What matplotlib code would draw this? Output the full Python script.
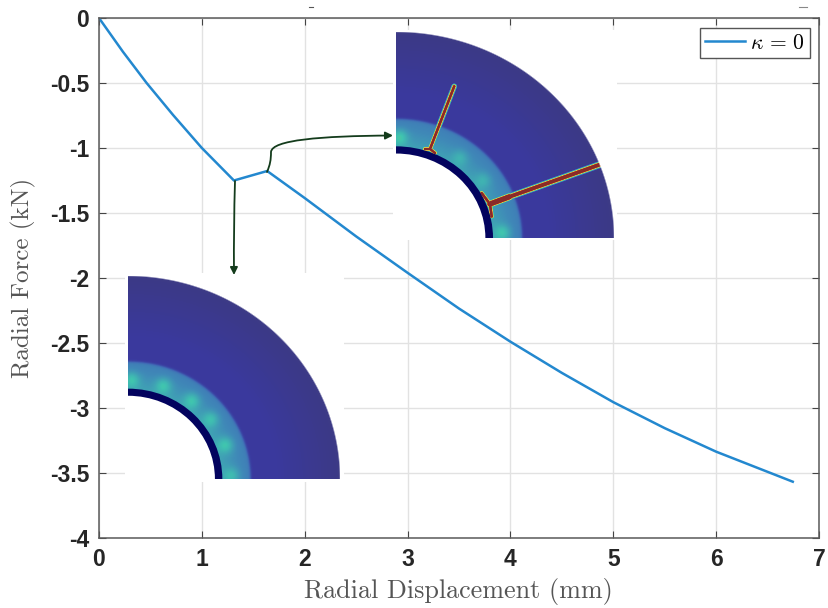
import numpy as np
import matplotlib
matplotlib.use('Agg')
import matplotlib.pyplot as plt
from matplotlib.colors import LinearSegmentedColormap
from matplotlib.patches import Wedge, FancyArrowPatch
from matplotlib.path import Path

plt.rcParams['mathtext.fontset'] = 'cm'

# curve
disp = [0, 0.233, 0.463, 0.72, 1.0, 1.312, 1.635, 2.0, 2.5, 3.0, 3.5, 4.0, 4.5, 5.0, 5.5, 6.0, 6.4, 6.745]
force = [0, -0.26, -0.50, -0.746, -1.0, -1.25, -1.177, -1.385, -1.68, -1.96, -2.235, -2.49, -2.73, -2.955, -3.155, -3.336, -3.46, -3.567]

xticks = [0, 1, 2, 3, 4, 5, 6, 7]
yticks = [0, -0.5, -1, -1.5, -2, -2.5, -3, -3.5, -4]
ylabels = ['0', '-0.5', '-1', '-1.5', '-2', '-2.5', '-3', '-3.5', '-4']

# inset pictures, px boxes: left, right, bottom, top of the wedge and of the white patch
top_inset = dict(wedge=(396, 614, 238, 32), box=(393, 617, 240, 30),
                 spots=[88, 53, 35, 3], strength=[0.11, 0.06, 0.06, 0.10])
low_inset = dict(wedge=(128, 340, 479, 276), box=(125, 344, 482, 273),
                 spots=[88, 70, 52, 37, 20, 2], strength=[0.10, 0.10, 0.10, 0.09, 0.10, 0.08])

# cracks in the top inset (start, end, half width px), fractions of wedge radius
cracks = [((0.156, 0.432), (0.267, 0.736), 0.5),
          ((0.156, 0.432), (0.133, 0.432), 0.4),
          ((0.156, 0.432), (0.179, 0.413), 0.4),
          ((0.431, 0.165), (0.52, 0.20), 1.8),
          ((0.52, 0.20), (1.0, 0.381), 1.1),
          ((0.431, 0.165), (0.393, 0.218), 0.5),
          ((0.431, 0.165), (0.439, 0.105), 0.5)]

W, H = 829, 608
cmap = LinearSegmentedColormap.from_list('damage', [
    (0.0, '#3c3a86'), (0.08, '#3a399e'), (0.2, '#3f66b4'), (0.3, '#4088b8'),
    (0.42, '#3fc4b0'), (0.52, '#7fd070'), (0.62, '#dfcc48'), (0.74, '#c8502c'), (0.88, '#8a2a28'), (1.0, '#8a2a28')])


def px_rect(l, r, b, t):
    return [l / W, 1 - b / H, (r - l) / W, (b - t) / H]


def seg_dist(x, y, p, q):
    p, q = np.array(p), np.array(q)
    d = q - p
    t = np.clip(((x - p[0]) * d[0] + (y - p[1]) * d[1]) / (d @ d), 0, 1)
    return np.hypot(x - p[0] - t * d[0], y - p[1] - t * d[1])


def draw_inset(fig, spec, crack_list):
    l, r, b, t = spec['wedge']
    bl, br, bb, bt = spec['box']
    sx, sy = r - l, b - t
    ax = fig.add_axes(px_rect(bl, br, bb, bt), zorder=3)
    ax.axis('off')
    ax.add_patch(plt.Rectangle((-1, -1), 3, 3, fc='white', ec='none', zorder=-1))

    x, y = np.meshgrid((np.arange(sx) + 0.5) / sx, (np.arange(sy) + 0.5) / sy)
    rr = np.hypot(x, y)
    # field: band round the hole, weak falloff outside
    step = 0.5 + 0.5 * np.tanh((0.578 - rr) * sx / 1.5)
    band = 0.35 - 0.08 * np.clip((rr - 0.445) / 0.135, 0, 1)
    out = 0.08 * np.clip((1 - rr) / 0.3, 0, 1)
    val = step * band + (1 - step) * out
    for ang, s in zip(spec['spots'], spec['strength']):
        a = np.radians(ang)
        d = np.hypot((x - 0.49 * np.cos(a)) * sx, (y - 0.49 * np.sin(a)) * sy)
        val = val + step * s * np.exp(-(d / 8.0) ** 2)
    for p, q, hw in crack_list:
        d = seg_dist(x * sx, y * sy, (p[0] * sx, p[1] * sy), (q[0] * sx, q[1] * sy))
        val = np.maximum(val, np.clip(1 - (d - hw) / 3.0, 0, 1))
    img = cmap(np.clip(val, 0, 1))
    img[..., 3] = np.clip((1 - rr) * sx / 1.5 + 0.5, 0, 1) * np.clip((rr - 0.42) * sx, 0, 1)
    ax.imshow(img, origin='lower', extent=(0, 1, 0, 1), aspect='auto', interpolation='bilinear')
    ax.add_patch(Wedge((0, 0), 0.445, 0, 90, width=0.445 - 0.41, fc='#03035e', ec='none'))
    ax.set_xlim((bl - l) / sx, (br - l) / sx)
    ax.set_ylim((b - bb) / sy, (b - bt) / sy)
    return ax


fig = plt.figure(figsize=(W / 100, H / 100), dpi=100)
ax = fig.add_axes(px_rect(99, 819, 538, 18))
ax.plot(disp, force, color='#2388cf', lw=1.8, label=r'$\kappa\,=\,0$', zorder=2)
ax.set_xlim(0, 7)
ax.set_ylim(-4, 0)
ax.set_xticks(xticks)
ax.set_yticks(yticks)
ax.set_yticklabels(ylabels)
ax.grid(True, color='#e2e2e2', lw=1)
ax.set_axisbelow(True)
ax.tick_params(direction='in', top=True, right=True, length=5, width=0.8, color='#444444',
               labelcolor='#262626', pad=7)
for lab in ax.get_xticklabels() + ax.get_yticklabels():
    lab.set_fontfamily('Liberation Sans')
    lab.set_fontweight('bold')
    lab.set_fontsize(16.5)
for s in ax.spines.values():
    s.set_color('#5a5a5a')
    s.set_linewidth(1.1)
ax.set_xlabel('Radial Displacement (mm)', family='cmr10', fontsize=18.8, color='#555555')
ax.set_ylabel('Radial Force (kN)', family='cmr10', fontsize=18, color='#555555')
ax.xaxis.set_label_coords(0.499, -0.077)
ax.yaxis.set_label_coords(-0.0875, 0.5)

leg = ax.legend(loc='upper right', bbox_to_anchor=(0.9875, 0.981), fontsize=15.5, fancybox=False,
                framealpha=1, edgecolor='#555555', borderpad=0.23, handlelength=1.86,
                handletextpad=0.25, borderaxespad=0)
leg.get_frame().set_linewidth(1.0)

draw_inset(fig, top_inset, cracks)
draw_inset(fig, low_inset, [])

# arrows on a full figure overlay in px
over = fig.add_axes([0, 0, 1, 1], zorder=5)
over.set_xlim(0, W)
over.set_ylim(H, 0)
over.axis('off')
green = '#143c1c'
over.add_patch(FancyArrowPatch((235, 181), (234, 275), arrowstyle='-|>', mutation_scale=11,
                               color=green, lw=1.3, shrinkA=0, shrinkB=0,
                               connectionstyle='arc3,rad=0.01'))
curve = Path([(267, 172), (270, 165), (271, 160), (271, 152), (272, 140), (320, 136), (393, 135.5)],
             [Path.MOVETO, Path.CURVE4, Path.CURVE4, Path.CURVE4, Path.CURVE4, Path.CURVE4, Path.CURVE4])
over.add_patch(FancyArrowPatch(path=curve, arrowstyle='-|>', mutation_scale=11, color=green, lw=1.3,
                               shrinkA=0, shrinkB=0))
over.plot([309, 313], [7, 7], color='#555555', lw=0.8)
over.plot([799, 807], [7, 7], color='#888888', lw=0.8)

fig.savefig('out.png', dpi=100)
